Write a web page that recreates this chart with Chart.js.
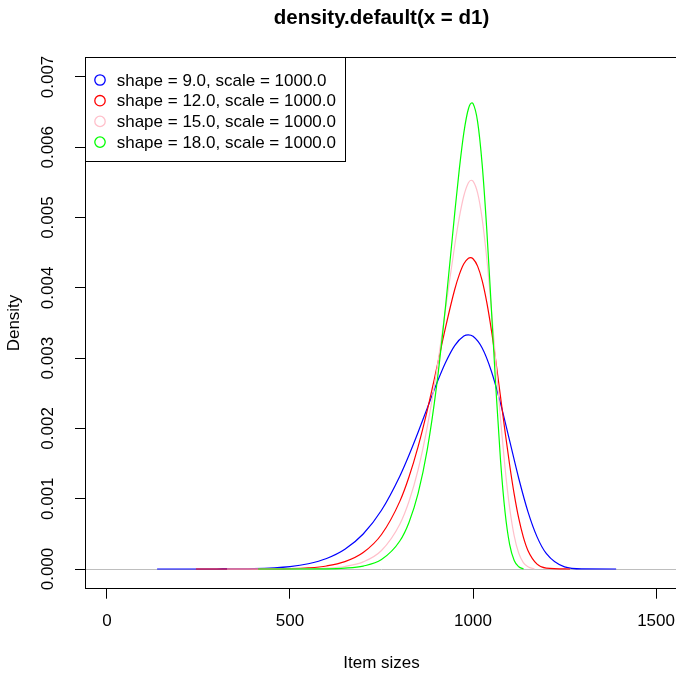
<!DOCTYPE html>
<html>
<head>
<meta charset="utf-8">
<script src="https://cdn.jsdelivr.net/npm/chart.js@4.4.1/dist/chart.umd.min.js"></script>
<style>
  html, body { margin: 0; padding: 0; background: #fff; overflow: hidden; }
</style>
</head>
<body>
<canvas id="chart" width="680" height="674"></canvas>
<script>
// Legend entries and line colours
const legendLabels = [
  'shape = 9.0, scale = 1000.0',
  'shape = 12.0, scale = 1000.0',
  'shape = 15.0, scale = 1000.0',
  'shape = 18.0, scale = 1000.0'
];
const seriesColors = ['#0000ff', '#ff0000', '#ffc0cb', '#00ff00'];

// Density curves (x = item size, y = density)
const xShape9 = [137, 200, 300, 400, 500, 550, 600, 650, 700, 750, 800, 825, 850, 875, 900, 925, 950, 975, 987, 1000, 1025, 1050, 1075, 1100, 1125, 1150, 1175, 1200, 1250, 1300, 1391];
const yShape9 = [0, 0, 0.0000006, 0.0000059, 0.0000351, 0.000075, 0.0001497, 0.0002809, 0.0004983, 0.0008358, 0.0013203, 0.0016181, 0.0019454, 0.0022894, 0.00263, 0.002938, 0.003179, 0.003315, 0.003332, 0.003311, 0.003145, 0.002818, 0.00236, 0.0018254, 0.001288, 0.000817, 0.0004574, 0.0002222, 0.000031, 0.0000018, 0];

const xShape12 = [243, 400, 500, 550, 600, 650, 700, 750, 800, 825, 850, 875, 900, 925, 950, 962.5, 975, 987.5, 993, 1000, 1012.5, 1025, 1037.5, 1050, 1062.5, 1075, 1087.5, 1100, 1112.5, 1125, 1137.5, 1150, 1175, 1200, 1265];
const yShape12 = [0, 0.0000005, 0.0000059, 0.0000167, 0.0000434, 0.0001044, 0.0002341, 0.000491, 0.0009623, 0.0013092, 0.0017418, 0.0022584, 0.0028392, 0.0034383, 0.0039764, 0.0041886, 0.0043427, 0.0044222, 0.00443, 0.0044146, 0.0043093, 0.0041028, 0.0037973, 0.0034065, 0.0029502, 0.0024562, 0.0019575, 0.0014839, 0.0010661, 0.0007192, 0.0004535, 0.0002651, 0.0000695, 0.0000119, 0];

const xShape15 = [328, 550, 600, 650, 700, 750, 800, 825, 850, 875, 900, 925, 950, 962.5, 975, 987.5, 995, 1000, 1012.5, 1025, 1037.5, 1050, 1062.5, 1075, 1087.5, 1100, 1112.5, 1125, 1137.5, 1150, 1168];
const yShape15 = [0, 0.0000035, 0.0000117, 0.000036, 0.0001013, 0.0002637, 0.0006372, 0.0009597, 0.0014125, 0.0020214, 0.002793, 0.0037023, 0.004603, 0.0049994, 0.00531, 0.0054956, 0.005531, 0.0055182, 0.0053504, 0.0049807, 0.0044208, 0.003715, 0.002927, 0.0021422, 0.0014382, 0.000874, 0.0004729, 0.0002243, 0.0000913, 0.000031, 0];

const xShape18 = [413, 600, 650, 700, 750, 800, 825, 850, 875, 900, 925, 950, 962.5, 975, 987.5, 997, 1000, 1012.5, 1025, 1037.5, 1050, 1062.5, 1075, 1087.5, 1100, 1112.5, 1125, 1138];
const yShape18 = [0, 0.000003, 0.0000119, 0.0000418, 0.0001346, 0.0003981, 0.0006626, 0.0010766, 0.0016987, 0.0025835, 0.0037409, 0.0050595, 0.005686, 0.0062091, 0.006548, 0.006632, 0.0066218, 0.006366, 0.0057567, 0.004837, 0.003718, 0.002568, 0.0015589, 0.000811, 0.0003501, 0.0001211, 0.000032, 0];

// Axis ticks
const xTicks = [0, 500, 1000, 1500];
const xTickLabels = ['0', '500', '1000', '1500'];
const yTicks = [0, 0.001, 0.002, 0.003, 0.004, 0.005, 0.006, 0.007];
const yTickLabels = ['0.000', '0.001', '0.002', '0.003', '0.004', '0.005', '0.006', '0.007'];

const FONT = '"Liberation Sans", Arial, Helvetica, sans-serif';
Chart.defaults.font.family = FONT;
Chart.defaults.color = '#000';

function toPoints(xs, ys) {
  return xs.map((x, i) => ({ x: x, y: ys[i] }));
}

// gray zero line, frame round the plot, legend box
const framePlugin = {
  id: 'frame',
  beforeDatasetsDraw(chart) {
    const { ctx, chartArea: a, scales } = chart;
    const y0 = Math.round(scales.y.getPixelForValue(0)) + 0.5;
    ctx.save();
    ctx.strokeStyle = '#bebebe';
    ctx.lineWidth = 1;
    ctx.beginPath();
    ctx.moveTo(a.left, y0);
    ctx.lineTo(a.right, y0);
    ctx.stroke();
    ctx.restore();
  },
  afterDraw(chart) {
    const { ctx, chartArea: a } = chart;
    ctx.save();
    ctx.strokeStyle = '#000';
    ctx.lineWidth = 1;
    ctx.strokeRect(Math.round(a.left) + 0.5, Math.round(a.top) + 0.5,
      Math.round(a.right - a.left), Math.round(a.bottom - a.top));

    // legend
    const rowH = 20.7;
    ctx.font = '17px ' + FONT;
    const textW = Math.max(...legendLabels.map(t => ctx.measureText(t).width));
    const bx = Math.round(a.left) + 0.5;
    const by = Math.round(a.top) + 0.5;
    const bw = Math.round(31.7 + textW + 9.5);
    const bh = Math.round(legendLabels.length * rowH + 21);
    ctx.fillStyle = '#fff';
    ctx.fillRect(bx, by, bw, bh);
    ctx.strokeRect(bx, by, bw, bh);
    ctx.textBaseline = 'middle';
    ctx.textAlign = 'left';
    legendLabels.forEach((label, i) => {
      const cy = a.top + 22.7 + i * rowH;
      ctx.beginPath();
      ctx.strokeStyle = chart.data.datasets[i].borderColor;
      ctx.lineWidth = 1.3;
      ctx.arc(a.left + 15, cy, 5.2, 0, Math.PI * 2);
      ctx.stroke();
      ctx.fillStyle = '#000';
      ctx.fillText(label, a.left + 31.7, cy + 1);
    });
    ctx.restore();
  }
};

const datasets = [
  [xShape9, yShape9],
  [xShape12, yShape12],
  [xShape15, yShape15],
  [xShape18, yShape18]
].map((s, i) => ({
  label: legendLabels[i],
  data: toPoints(s[0], s[1]),
  borderColor: seriesColors[i],
  borderWidth: 1.2,
  pointRadius: 0,
  fill: false,
  cubicInterpolationMode: 'monotone',
  order: 4 - i
}));

new Chart(document.getElementById('chart'), {
  type: 'line',
  data: { datasets: datasets },
  options: {
    responsive: false,
    animation: false,
    layout: { padding: { left: 0, right: 2, top: 0, bottom: 0 } },
    plugins: {
      legend: { display: false },
      tooltip: { enabled: false },
      title: {
        display: true,
        fullSize: false,
        text: 'density.default(x = d1)',
        color: '#000',
        font: { size: 20.5, weight: 'bold' },
        padding: { top: 6, bottom: 26.7 }
      }
    },
    scales: {
      x: {
        type: 'linear',
        min: -60,
        max: 1560,
        afterBuildTicks: s => { s.ticks = xTicks.map(v => ({ value: v })); },
        afterFit: s => {
          s.height = 85.3;
          s.paddingLeft = 0;
          s.paddingRight = 0;
        },
        ticks: {
          callback: (v, i) => xTickLabels[i],
          font: { size: 17 },
          color: '#000',
          padding: 12,
          maxRotation: 0,
          autoSkip: false
        },
        grid: { drawOnChartArea: false, color: '#000', tickLength: 10 },
        border: { display: true, color: '#000' },
        title: {
          display: true,
          text: 'Item sizes',
          color: '#000',
          font: { size: 17 },
          padding: { top: 0, bottom: 0 }
        }
      },
      y: {
        type: 'linear',
        min: -0.00028,
        max: 0.00728,
        afterBuildTicks: s => { s.ticks = yTicks.map(v => ({ value: v })); },
        afterFit: s => {
          s.width = 85;
          s.paddingTop = 0;
          s.paddingBottom = 0;
        },
        ticks: {
          callback: (v, i) => yTickLabels[i],
          font: { size: 17 },
          color: '#000',
          minRotation: 90,
          maxRotation: 90,
          crossAlign: 'center',
          padding: 5,
          autoSkip: false
        },
        grid: { drawOnChartArea: false, color: '#000', tickLength: 10 },
        border: { display: true, color: '#000' },
        title: {
          display: true,
          text: 'Density',
          color: '#000',
          font: { size: 17 },
          padding: { top: 4, bottom: 0 }
        }
      }
    }
  },
  plugins: [framePlugin]
});
</script>
</body>
</html>
